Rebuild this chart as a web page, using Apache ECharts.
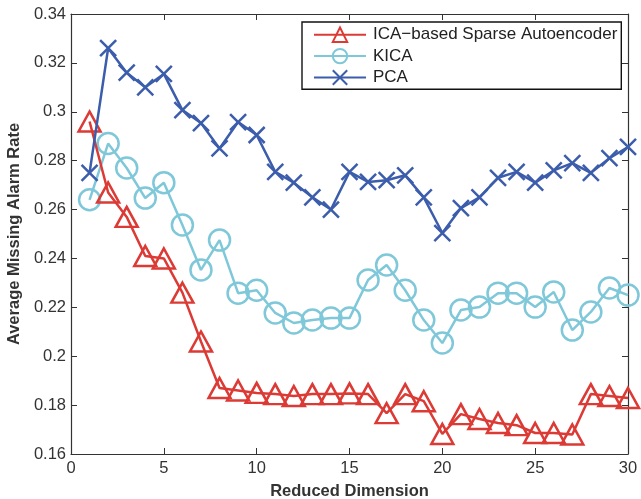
<!DOCTYPE html>
<html>
<head>
<meta charset="utf-8">
<script src="https://cdn.jsdelivr.net/npm/echarts@6/dist/echarts.min.js"></script>
<style>
html,body{margin:0;padding:0;background:#fff;}
#c{width:641px;height:499px;}
</style>
</head>
<body>
<div id="c"></div>
<script>
const dims = [1,2,3,4,5,6,7,8,9,10,11,12,13,14,15,16,17,18,19,20,21,22,23,24,25,26,27,28,29,30];
const icaSAE = [0.296,0.267,0.257,0.241,0.240,0.226,0.206,0.187,0.186,0.185,0.1845,0.1837,0.1845,0.1845,0.1848,0.1845,0.1767,0.1845,0.1816,0.1682,0.1763,0.1743,0.1727,0.1718,0.1686,0.1686,0.168,0.1845,0.1837,0.1829];
const kica = [0.264,0.287,0.277,0.2647,0.271,0.2537,0.2353,0.2475,0.2258,0.227,0.2177,0.2136,0.2148,0.2156,0.2156,0.2312,0.2373,0.227,0.2148,0.2054,0.2189,0.2201,0.2258,0.2258,0.2201,0.2263,0.2107,0.2181,0.2279,0.225];
const pca = [0.275,0.326,0.316,0.310,0.3155,0.3007,0.2954,0.285,0.2958,0.2905,0.2754,0.271,0.265,0.260,0.2754,0.2713,0.272,0.274,0.265,0.2504,0.2606,0.265,0.273,0.2754,0.271,0.276,0.279,0.275,0.281,0.2856];
const seriesNames = ['ICA\u2212based Sparse Autoencoder','KICA','PCA'];
const xTitle = 'Reduced Dimension';
const yTitle = 'Average Missing Alarm Rate';

const RED = '#dc3a35', CYAN = '#7fc8d9', BLUE = '#3c5dab';
const FONT = '"Liberation Sans", Arial, Helvetica, sans-serif';
const CROSS = 'path://M0,0L10,10M10,0L0,10';

function pairs(arr){ return dims.map((d,i)=>[d,arr[i]]); }

const axisCommonX = {
  type:'value', min:0, max:30, interval:5,
  axisLine:{show:true, onZero:false, lineStyle:{color:'#333', width:1.2}},
  axisTick:{show:true, inside:true, length:6, lineStyle:{color:'#333'}},
  splitLine:{show:false}
};
const axisCommonY = {
  type:'value', min:0.16, max:0.34, interval:0.02,
  axisLine:{show:true, onZero:false, lineStyle:{color:'#333', width:1.2}},
  axisTick:{show:true, inside:true, length:6, lineStyle:{color:'#333'}},
  splitLine:{show:false}
};

const chart = echarts.init(document.getElementById('c'), null, {renderer:'canvas'});
chart.setOption({
  animation:false,
  backgroundColor:'#fff',
  textStyle:{fontFamily:FONT},
  grid:{left:71, right:13, top:14, bottom:45, containLabel:false, outerBoundsMode:'none'},
  xAxis:[
    Object.assign({}, axisCommonX, {
      position:'bottom',
      name:xTitle, nameLocation:'middle', nameGap:29,
      nameTextStyle:{fontFamily:FONT, fontWeight:'bold', fontSize:16.5, color:'#333'},
      axisLabel:{fontFamily:FONT, fontSize:16.5, color:'#333', margin:6}
    }),
    Object.assign({}, axisCommonX, {position:'top', axisLabel:{show:false}})
  ],
  yAxis:[
    Object.assign({}, axisCommonY, {
      position:'left',
      name:yTitle, nameLocation:'middle', nameGap:45,
      nameTextStyle:{fontFamily:FONT, fontWeight:'bold', fontSize:16.5, color:'#333'},
      axisLabel:{fontFamily:FONT, fontSize:16.5, color:'#333', margin:5}
    }),
    Object.assign({}, axisCommonY, {position:'right', axisLabel:{show:false}})
  ],
  legend:{
    orient:'vertical', left:302, top:22,
    padding:[3,4,2,11],
    itemGap:2, itemWidth:52, itemHeight:18,
    backgroundColor:'#fff',
    borderColor:'#111', borderWidth:1.4,
    textStyle:{fontFamily:FONT, fontSize:17, lineHeight:18, color:'#222', padding:[0,0,0,2]},
    data:seriesNames
  },
  series:[
    {
      name:seriesNames[0], type:'line', data:pairs(icaSAE),
      symbol:'triangle', symbolSize:[22,20],
      lineStyle:{color:RED, width:2.5},
      itemStyle:{color:'none', borderColor:RED, borderWidth:2.5},
      z:3
    },
    {
      name:seriesNames[1], type:'line', data:pairs(kica),
      symbol:'circle', symbolSize:21,
      lineStyle:{color:CYAN, width:2.5},
      itemStyle:{color:'none', borderColor:CYAN, borderWidth:2.5},
      z:2
    },
    {
      name:seriesNames[2], type:'line', data:pairs(pca),
      symbol:CROSS, symbolSize:16,
      lineStyle:{color:BLUE, width:2.5},
      itemStyle:{color:'none', borderColor:BLUE, borderWidth:2.5},
      z:4
    }
  ]
});
</script>
</body>
</html>
